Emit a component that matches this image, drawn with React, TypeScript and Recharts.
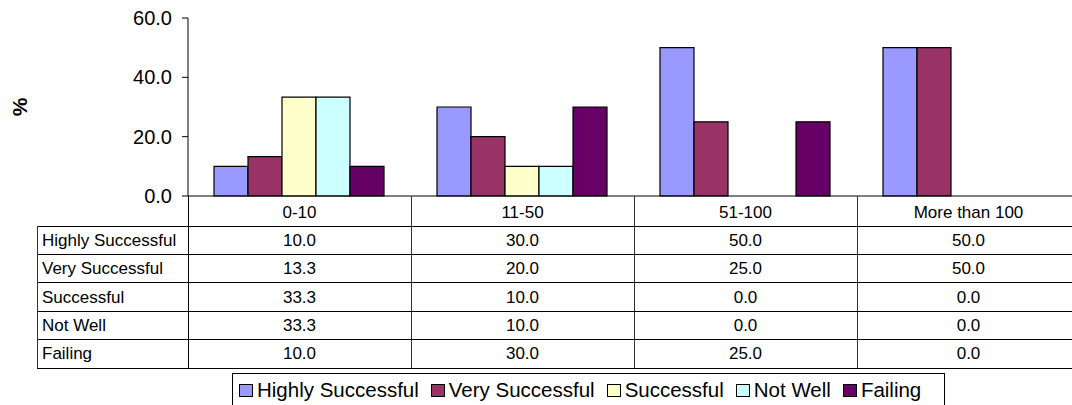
import React from 'react';
import { BarChart, Bar, XAxis, YAxis, Legend } from 'recharts';

// Respondent share (%) by organisation size
const categories = ['0-10', '11-50', '51-100', 'More than 100'];
const highlySuccessful = [10.0, 30.0, 50.0, 50.0];
const verySuccessful = [13.3, 20.0, 25.0, 50.0];
const successful = [33.3, 10.0, 0.0, 0.0];
const notWell = [33.3, 10.0, 0.0, 0.0];
const failing = [10.0, 30.0, 25.0, 0.0];
const yTicks = [0, 20, 40, 60];

const series = [
  { key: 'highly', name: 'Highly Successful', color: '#9999FF', values: highlySuccessful },
  { key: 'very', name: 'Very Successful', color: '#993366', values: verySuccessful },
  { key: 'successful', name: 'Successful', color: '#FFFFCC', values: successful },
  { key: 'notWell', name: 'Not Well', color: '#CCFFFF', values: notWell },
  { key: 'failing', name: 'Failing', color: '#660066', values: failing },
];

const data = categories.map((category, i) => {
  const row: Record<string, string | number> = { category };
  series.forEach((s) => {
    row[s.key] = s.values[i];
  });
  return row;
});

const CHART_W = 1080;
const CHART_H = 405;
const AXIS_W = 188;
const MARGIN = { top: 18, right: 0, bottom: 0, left: 0 };
const BAND = (CHART_W - AXIS_W - MARGIN.left - MARGIN.right) / categories.length;
const TABLE_LEFT = 37;
const HEADER_H = 30;
const ROW_H = 28.4;
const FONT = 'Arial, "Liberation Sans", sans-serif';
const TABLE_FONT = 17;

// Each x-axis tick draws its column of the data table underneath the plot
function TableColumn(props: any) {
  const { x, y, index, payload } = props;
  const left = x - BAND / 2;
  const right = x + BAND / 2;
  const bottom = y + HEADER_H + ROW_H * series.length;
  const lineLeft = index === 0 ? TABLE_LEFT : left;
  const rowTop = (r: number) => y + HEADER_H + r * ROW_H;

  return (
    <g fontFamily={FONT} fontSize={TABLE_FONT} fill="#000">
      <text x={x} y={y + HEADER_H / 2 + 1} textAnchor="middle" dominantBaseline="central">
        {payload.value}
      </text>
      {series.map((s, r) => (
        <g key={s.key}>
          <line x1={lineLeft} x2={right} y1={rowTop(r)} y2={rowTop(r)} stroke="#000" shapeRendering="crispEdges" />
          <text x={x} y={rowTop(r) + ROW_H / 2} textAnchor="middle" dominantBaseline="central">
            {s.values[index].toFixed(1)}
          </text>
          {index === 0 && (
            <text x={TABLE_LEFT + 5} y={rowTop(r) + ROW_H / 2} dominantBaseline="central">
              {s.name}
            </text>
          )}
        </g>
      ))}
      <line x1={lineLeft} x2={right} y1={bottom} y2={bottom} stroke="#000" shapeRendering="crispEdges" />
      <line x1={right} x2={right} y1={y} y2={bottom} stroke="#333" shapeRendering="crispEdges" />
      {index === 0 && (
        <>
          <line x1={left} x2={left} y1={y} y2={bottom} stroke="#000" shapeRendering="crispEdges" />
          <line x1={TABLE_LEFT} x2={TABLE_LEFT} y1={y + HEADER_H} y2={bottom} stroke="#333" shapeRendering="crispEdges" />
        </>
      )}
    </g>
  );
}

function LegendBox() {
  return (
    <div
      style={{
        display: 'flex',
        alignItems: 'center',
        gap: 12,
        height: 34,
        boxSizing: 'border-box',
        padding: '0 0 0 6px',
        border: '1px solid #000',
        background: '#fff',
        fontFamily: FONT,
        fontSize: 20.5,
        color: '#000',
        whiteSpace: 'nowrap',
        width: 713,
      }}
    >
      {series.map((s) => (
        <span key={s.key} style={{ display: 'flex', alignItems: 'center' }}>
          <span
            style={{
              display: 'inline-block',
              width: 12,
              height: 11,
              background: s.color,
              border: '1.5px solid #000',
              marginRight: 4,
            }}
          />
          {s.name}
        </span>
      ))}
    </div>
  );
}

export default function App() {
  return (
    <div style={{ position: 'fixed', left: 0, top: 0, width: 1072, height: CHART_H, overflow: 'hidden', background: '#fff' }}>
      <BarChart width={CHART_W} height={CHART_H} data={data} margin={MARGIN} barGap={0} barCategoryGap="11.66%">
        <XAxis
          dataKey="category"
          height={CHART_H - 196}
          axisLine={{ stroke: '#000' }}
          tickLine={false}
          tickSize={0}
          tickMargin={0}
          interval={0}
          tick={<TableColumn />}
        />
        <YAxis
          width={AXIS_W}
          domain={[0, 60]}
          ticks={yTicks}
          tickFormatter={(v: number) => v.toFixed(1)}
          axisLine={{ stroke: '#000' }}
          tickLine={{ stroke: '#000' }}
          tickSize={6}
          tickMargin={10}
          tick={{ fill: '#000', fontSize: 20, fontFamily: FONT }}
          label={({ viewBox }: any) => (
            <text
              x={19}
              y={viewBox.y + viewBox.height / 2}
              transform={`rotate(-90 19 ${viewBox.y + viewBox.height / 2})`}
              textAnchor="middle"
              dominantBaseline="central"
              fontSize={21}
              fontWeight="bold"
              fontFamily={FONT}
              fill="#000"
            >
              %
            </text>
          )}
        />
        <Legend
          layout="horizontal"
          verticalAlign="middle"
          align="center"
          wrapperStyle={{ top: 373, left: 232, width: 'auto', height: 'auto' }}
          content={() => <LegendBox />}
        />
        {series.map((s) => (
          <Bar
            key={s.key}
            dataKey={s.key}
            name={s.name}
            fill={s.color}
            stroke="#000"
            strokeWidth={1.2}
            isAnimationActive={false}
          />
        ))}
      </BarChart>
    </div>
  );
}
